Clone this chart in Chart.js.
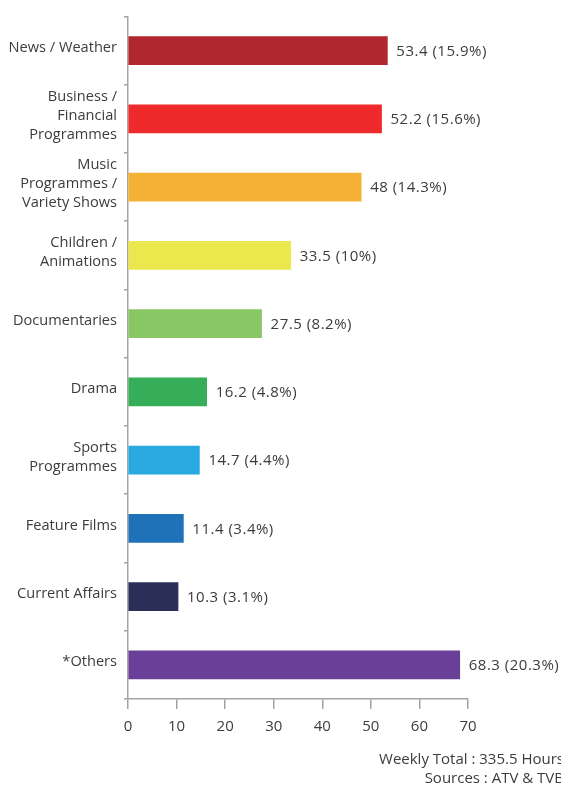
<!DOCTYPE html>
<html>
<head>
<meta charset="utf-8">
<script src="https://cdn.jsdelivr.net/npm/chart.js@4"></script>
<style>
  html, body { margin: 0; padding: 0; background: #fff; overflow: hidden; }
  #wrap { position: relative; width: 561px; height: 785px; }
</style>
</head>
<body>
<div id="wrap"><canvas id="chart" width="561" height="785"></canvas></div>
<script>
// Weekly programme hours by genre
const categories = [
  'News / Weather',
  ['Business /', 'Financial', 'Programmes'],
  ['Music', 'Programmes /', 'Variety Shows'],
  ['Children /', 'Animations'],
  'Documentaries',
  'Drama',
  ['Sports', 'Programmes'],
  'Feature Films',
  'Current Affairs',
  '*Others'
];
const hours = [53.4, 52.2, 48, 33.5, 27.5, 16.2, 14.7, 11.4, 10.3, 68.3];
const shares = ['15.9%', '15.6%', '14.3%', '10%', '8.2%', '4.8%', '4.4%', '3.4%', '3.1%', '20.3%'];
const barColors = ['#b1262f', '#ee2a2b', '#f4b234', '#eae84d', '#89c764', '#36ae59', '#28a9e0', '#1f71b8', '#2b2e56', '#6a3f97'];
const xTicks = [0, 10, 20, 30, 40, 50, 60, 70];
const footer = ['Weekly Total : 335.5 Hours', 'Sources : ATV & TVB'];

const FONT = "'Open Sans', 'Noto Sans', sans-serif";
const TEXT = '#3c3c3c';
const AXIS = '#a3a3a3';

const valueLabels = {
  id: 'valueLabels',
  afterDatasetsDraw(chart) {
    const ctx = chart.ctx;
    const meta = chart.getDatasetMeta(0);
    ctx.save();
    ctx.font = '15px ' + FONT;
    ctx.letterSpacing = '0.5px';
    ctx.fillStyle = TEXT;
    ctx.textAlign = 'left';
    ctx.textBaseline = 'middle';
    meta.data.forEach((bar, i) => {
      ctx.fillText(hours[i] + ' (' + shares[i] + ')', bar.x + 9, bar.y + 1);
    });
    ctx.restore();
  }
};

const footerText = {
  id: 'footerText',
  afterDraw(chart) {
    const ctx = chart.ctx;
    ctx.save();
    ctx.font = '15px ' + FONT;
    ctx.fillStyle = TEXT;
    ctx.textAlign = 'right';
    ctx.textBaseline = 'middle';
    ctx.fillText(footer[0], 564, 760);
    ctx.fillText(footer[1], 564, 779);
    ctx.restore();
  }
};

new Chart(document.getElementById('chart'), {
  type: 'bar',
  data: {
    labels: categories,
    datasets: [{
      data: hours,
      backgroundColor: barColors,
      borderWidth: 0,
      barThickness: 28
    }]
  },
  options: {
    indexAxis: 'y',
    responsive: false,
    animation: false,
    devicePixelRatio: 1,
    layout: { padding: { top: 15, right: 93, bottom: 46, left: 0 } },
    plugins: { legend: { display: false }, tooltip: { enabled: false } },
    scales: {
      x: {
        min: 0,
        max: 70,
        afterBuildTicks(scale) { scale.ticks = xTicks.map(v => ({ value: v })); },
        afterFit(scale) { scale.height = 40; },
        grid: { drawOnChartArea: false, drawTicks: true, tickLength: 10, color: AXIS, lineWidth: 1.5 },
        border: { color: AXIS, width: 1.5 },
        ticks: { color: TEXT, font: { family: FONT, size: 15 }, padding: 9 }
      },
      y: {
        afterFit(scale) { scale.width = 128; },
        grid: { drawOnChartArea: false, drawTicks: true, tickLength: 4, offset: true, color: AXIS, lineWidth: 1.5 },
        border: { color: AXIS, width: 1.5 },
        ticks: { color: TEXT, font: { family: FONT, size: 14.6, lineHeight: 1.3 }, padding: 7, labelOffset: -3 }
      }
    }
  },
  plugins: [valueLabels, footerText]
});
</script>
</body>
</html>
